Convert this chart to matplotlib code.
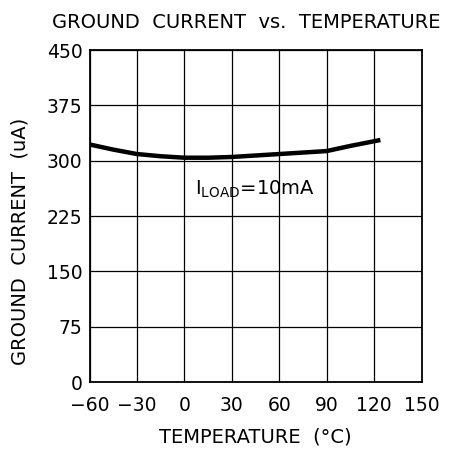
import numpy as np
import matplotlib.pyplot as plt

# data
temperature = [-60, -45, -30, -15, 0, 15, 30, 45, 60, 75, 90, 105, 124]
ground_current = [322, 315, 309, 306, 304, 304, 305, 307, 309, 311, 313, 320, 328]

x_ticks = [-60, -30, 0, 30, 60, 90, 120, 150]
y_ticks = [0, 75, 150, 225, 300, 375, 450]

plt.rcParams['font.family'] = 'DejaVu Sans'
W, H = 453, 451
fig = plt.figure(figsize=(W / 100, H / 100), dpi=100)
ax = fig.add_axes([89.5 / W, 1 - 382 / H, 332 / W, 332 / H])

ax.plot(temperature, ground_current, color='black', linewidth=3.2, solid_capstyle='butt')

ax.set_xlim(-60, 150)
ax.set_ylim(0, 450)
ax.set_xticks(x_ticks)
ax.set_yticks(y_ticks)
ax.set_xticklabels([str(t).replace('-', '\u2212') for t in x_ticks])
ax.grid(True, color='black', linewidth=0.9)
ax.tick_params(length=0, labelsize=13.5, colors='black')
ax.tick_params(axis='x', pad=10)
ax.tick_params(axis='y', pad=5)
for s in ax.spines.values():
    s.set_linewidth(1.3)

ax.text(6.5, 261, r'I$_{\mathregular{LOAD}}$=10mA', fontsize=14, ha='left', va='center')

fig.text(246 / W, 1 - 22 / H, 'GROUND  CURRENT  vs.  TEMPERATURE', fontsize=14, ha='center', va='center')
ax.set_xlabel('TEMPERATURE  (°C)', fontsize=14)
ax.xaxis.set_label_coords((255 - 89.5) / 332, -(437 - 382) / 332)
ax.xaxis.label.set_va('center')
ax.set_ylabel('GROUND  CURRENT  (uA)', fontsize=14)
ax.yaxis.set_label_coords((20 - 89.5) / 332, (382 - 241) / 332)
ax.yaxis.label.set_va('center')

fig.savefig('out.png', dpi=100)
